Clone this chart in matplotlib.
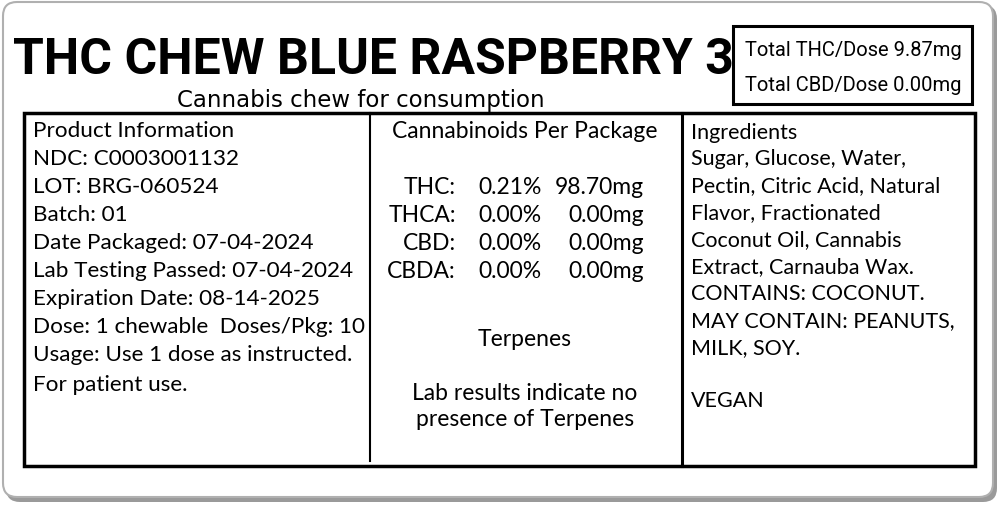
import matplotlib
matplotlib.use("Agg")
import matplotlib.pyplot as plt
from matplotlib.patches import FancyBboxPatch, Rectangle

title = "THC CHEW BLUE RASPBERRY 3"
subtitle = "Cannabis chew for consumption"
dose_lines = ["Total THC/Dose 9.87mg", "Total CBD/Dose 0.00mg"]

product_info = ["Product Information", "NDC: C0003001132", "LOT: BRG-060524", "Batch: 01",
                "Date Packaged: 07-04-2024", "Lab Testing Passed: 07-04-2024",
                "Expiration Date: 08-14-2025", "Dose: 1 chewable  Doses/Pkg: 10",
                "Usage: Use 1 dose as instructed.", "For patient use."]

cannabinoids = ["THC:", "THCA:", "CBD:", "CBDA:"]
percents = ["0.21%", "0.00%", "0.00%", "0.00%"]
amounts = ["98.70mg", "0.00mg", "0.00mg", "0.00mg"]

ingredients = ["Ingredients", "Sugar, Glucose, Water,", "Pectin, Citric Acid, Natural",
               "Flavor, Fractionated", "Coconut Oil, Cannabis", "Extract, Carnauba Wax.",
               "CONTAINS: COCONUT.", "MAY CONTAIN: PEANUTS,", "MILK, SOY.", "", "VEGAN"]

narrow = ["Roboto", "DejaVu Sans"]
body = ["Lato", "DejaVu Sans"]

fig = plt.figure(figsize=(10, 5.06), dpi=100)
ax = fig.add_axes([0, 0, 1, 1])
ax.set_xlim(0, 1000)
ax.set_ylim(506, 0)
ax.axis("off")

# outer label frame with shadow
ax.add_patch(FancyBboxPatch((6, 6), 991, 497, boxstyle="round,pad=0,rounding_size=14",
                            fc="#9a9a9a", ec="none"))
ax.add_patch(FancyBboxPatch((3, 3), 990, 495, boxstyle="round,pad=0,rounding_size=14",
                            fc="white", ec="#b0b0b0", lw=1.5))

# main box and dividers
ax.add_patch(Rectangle((24, 114), 951, 353, fill=False, ec="black", lw=2.5))
ax.plot([370, 370], [114, 462], color="black", lw=1.5)
ax.plot([682, 682], [114, 467], color="black", lw=2.2)
ax.add_patch(Rectangle((733, 27), 239, 78, fill=False, ec="black", lw=2.2))

ax.text(373, 60, title, fontsize=36, fontweight="bold", family=narrow, ha="center", va="center")
ax.text(361, 100, subtitle, fontsize=16.5, family=["DejaVu Sans"], ha="center", va="center")
for i, s in enumerate(dose_lines):
    ax.text(853, 50 + i * 35, s, fontsize=14.5, family=narrow, ha="center", va="center")

for i, s in enumerate(product_info):
    y = 131 + i * 28 + (2 if i == 9 else 0)
    ax.text(33, y, s, fontsize=16.2, family=body, ha="left", va="center")

ax.text(525, 131, "Cannabinoids Per Package", fontsize=16.5, family=body, ha="center", va="center")
for i in range(len(cannabinoids)):
    y = 187 + i * 28
    ax.text(456, y, cannabinoids[i], fontsize=16.5, family=body, ha="right", va="center")
    ax.text(510, y, percents[i], fontsize=16.5, family=body, ha="center", va="center")
    ax.text(644, y, amounts[i], fontsize=16.5, family=body, ha="right", va="center")
ax.text(525, 340, "Terpenes", fontsize=16.5, family=body, ha="center", va="center")
ax.text(525, 394, "Lab results indicate no", fontsize=16.5, family=body, ha="center", va="center")
ax.text(525, 420, "presence of Terpenes", fontsize=16.5, family=body, ha="center", va="center")

for i, s in enumerate(ingredients):
    y = 133 + i * 27 - (1 if i > 0 else 0)
    if s == "VEGAN":
        y = 401
    ax.text(691, y, s, fontsize=15.5, family=body, ha="left", va="center")

fig.savefig("out.png", dpi=100)
